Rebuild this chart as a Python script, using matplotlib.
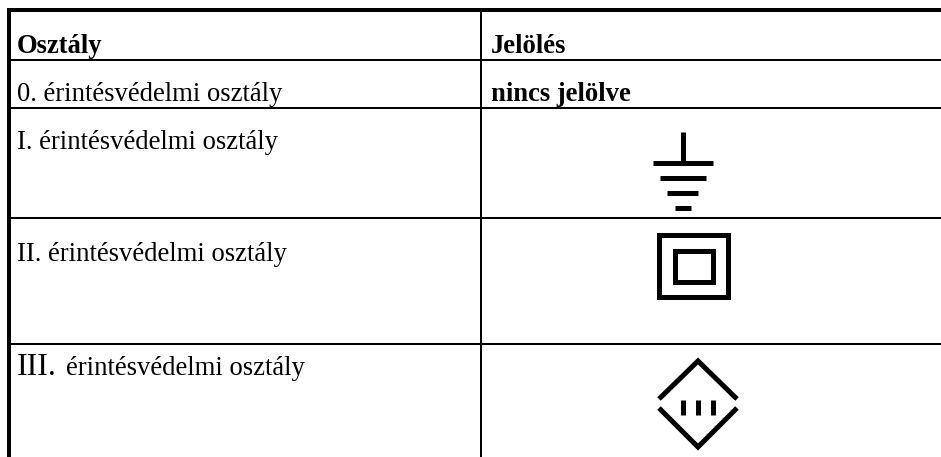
"""Touch protection classes table, drawn in pixel coordinates."""
import matplotlib
matplotlib.use("Agg")
import matplotlib.pyplot as plt
from matplotlib.patches import Rectangle

W, H = 941, 457

headers = ["Osztály", "Jelölés"]
class_names = ["0.", "I.", "II.", "III."]
class_suffix = "érintésvédelmi osztály"
no_mark = "nincs jelölve"

row_lines = [60, 108, 218, 344]
col_line = 481

# ground symbol: (half width, y)
ground_bars = [(30, 163), (23, 178), (15.5, 193), (8, 208)]
squares = [(657, 232, 74, 67), (673, 248, 43, 36)]
diamond_upper = [(659, 399), (698, 361), (737, 399)]
diamond_lower = [(659, 408), (698, 447), (737, 408)]
tick_xs = [683, 698, 713]

plt.rcParams["font.family"] = ["Liberation Serif"]
fig = plt.figure(figsize=(W / 100, H / 100), dpi=100)
ax = fig.add_axes([0, 0, 1, 1])
ax.set_xlim(0, W)
ax.set_ylim(H, 0)
ax.axis("off")

lw_px = 72 / 100  # points per pixel
ax.plot([7, W], [10, 10], color="black", lw=4 * lw_px, solid_capstyle="butt")
ax.plot([9, 9], [8, H], color="black", lw=4 * lw_px, solid_capstyle="butt")
for y in row_lines:
    ax.plot([9, W], [y, y], color="black", lw=2 * lw_px, solid_capstyle="butt")
ax.plot([col_line, col_line], [10, H], color="black", lw=2 * lw_px, solid_capstyle="butt")

FS = 19.2
ax.text(17, 53, headers[0], fontsize=FS, fontweight="bold", va="baseline")
ax.text(491, 53, headers[1], fontsize=FS, fontweight="bold", va="baseline")
ax.text(17, 101, f"{class_names[0]} {class_suffix}", fontsize=FS, va="baseline")
ax.text(491, 101, no_mark, fontsize=FS, fontweight="bold", va="baseline")
ax.text(17, 149, f"{class_names[1]} {class_suffix}", fontsize=FS, va="baseline")
ax.text(17, 261, f"{class_names[2]} {class_suffix}", fontsize=FS, va="baseline")
ax.text(17, 375, class_names[3], fontsize=23, va="baseline")
ax.text(66, 375, class_suffix, fontsize=FS, va="baseline")

# ground symbol
ax.plot([683, 683], [132, 163], color="black", lw=5 * lw_px, solid_capstyle="butt")
for half, y in ground_bars:
    ax.plot([683 - half, 683 + half], [y, y], color="black", lw=5 * lw_px, solid_capstyle="butt")

# double square
for x, y, w, h in squares:
    ax.add_patch(Rectangle((x + 2.5, y + 2.5), w - 5, h - 5, fill=False, ec="black",
                           lw=5 * lw_px, joinstyle="miter"))

# class III diamond
for pts in (diamond_upper, diamond_lower):
    ax.plot([p[0] for p in pts], [p[1] for p in pts], color="black", lw=5 * lw_px,
            solid_capstyle="butt", solid_joinstyle="miter")
for x in tick_xs:
    ax.plot([x, x], [400, 415], color="black", lw=5 * lw_px, solid_capstyle="butt")

fig.savefig("out.png", dpi=100, facecolor="white")
